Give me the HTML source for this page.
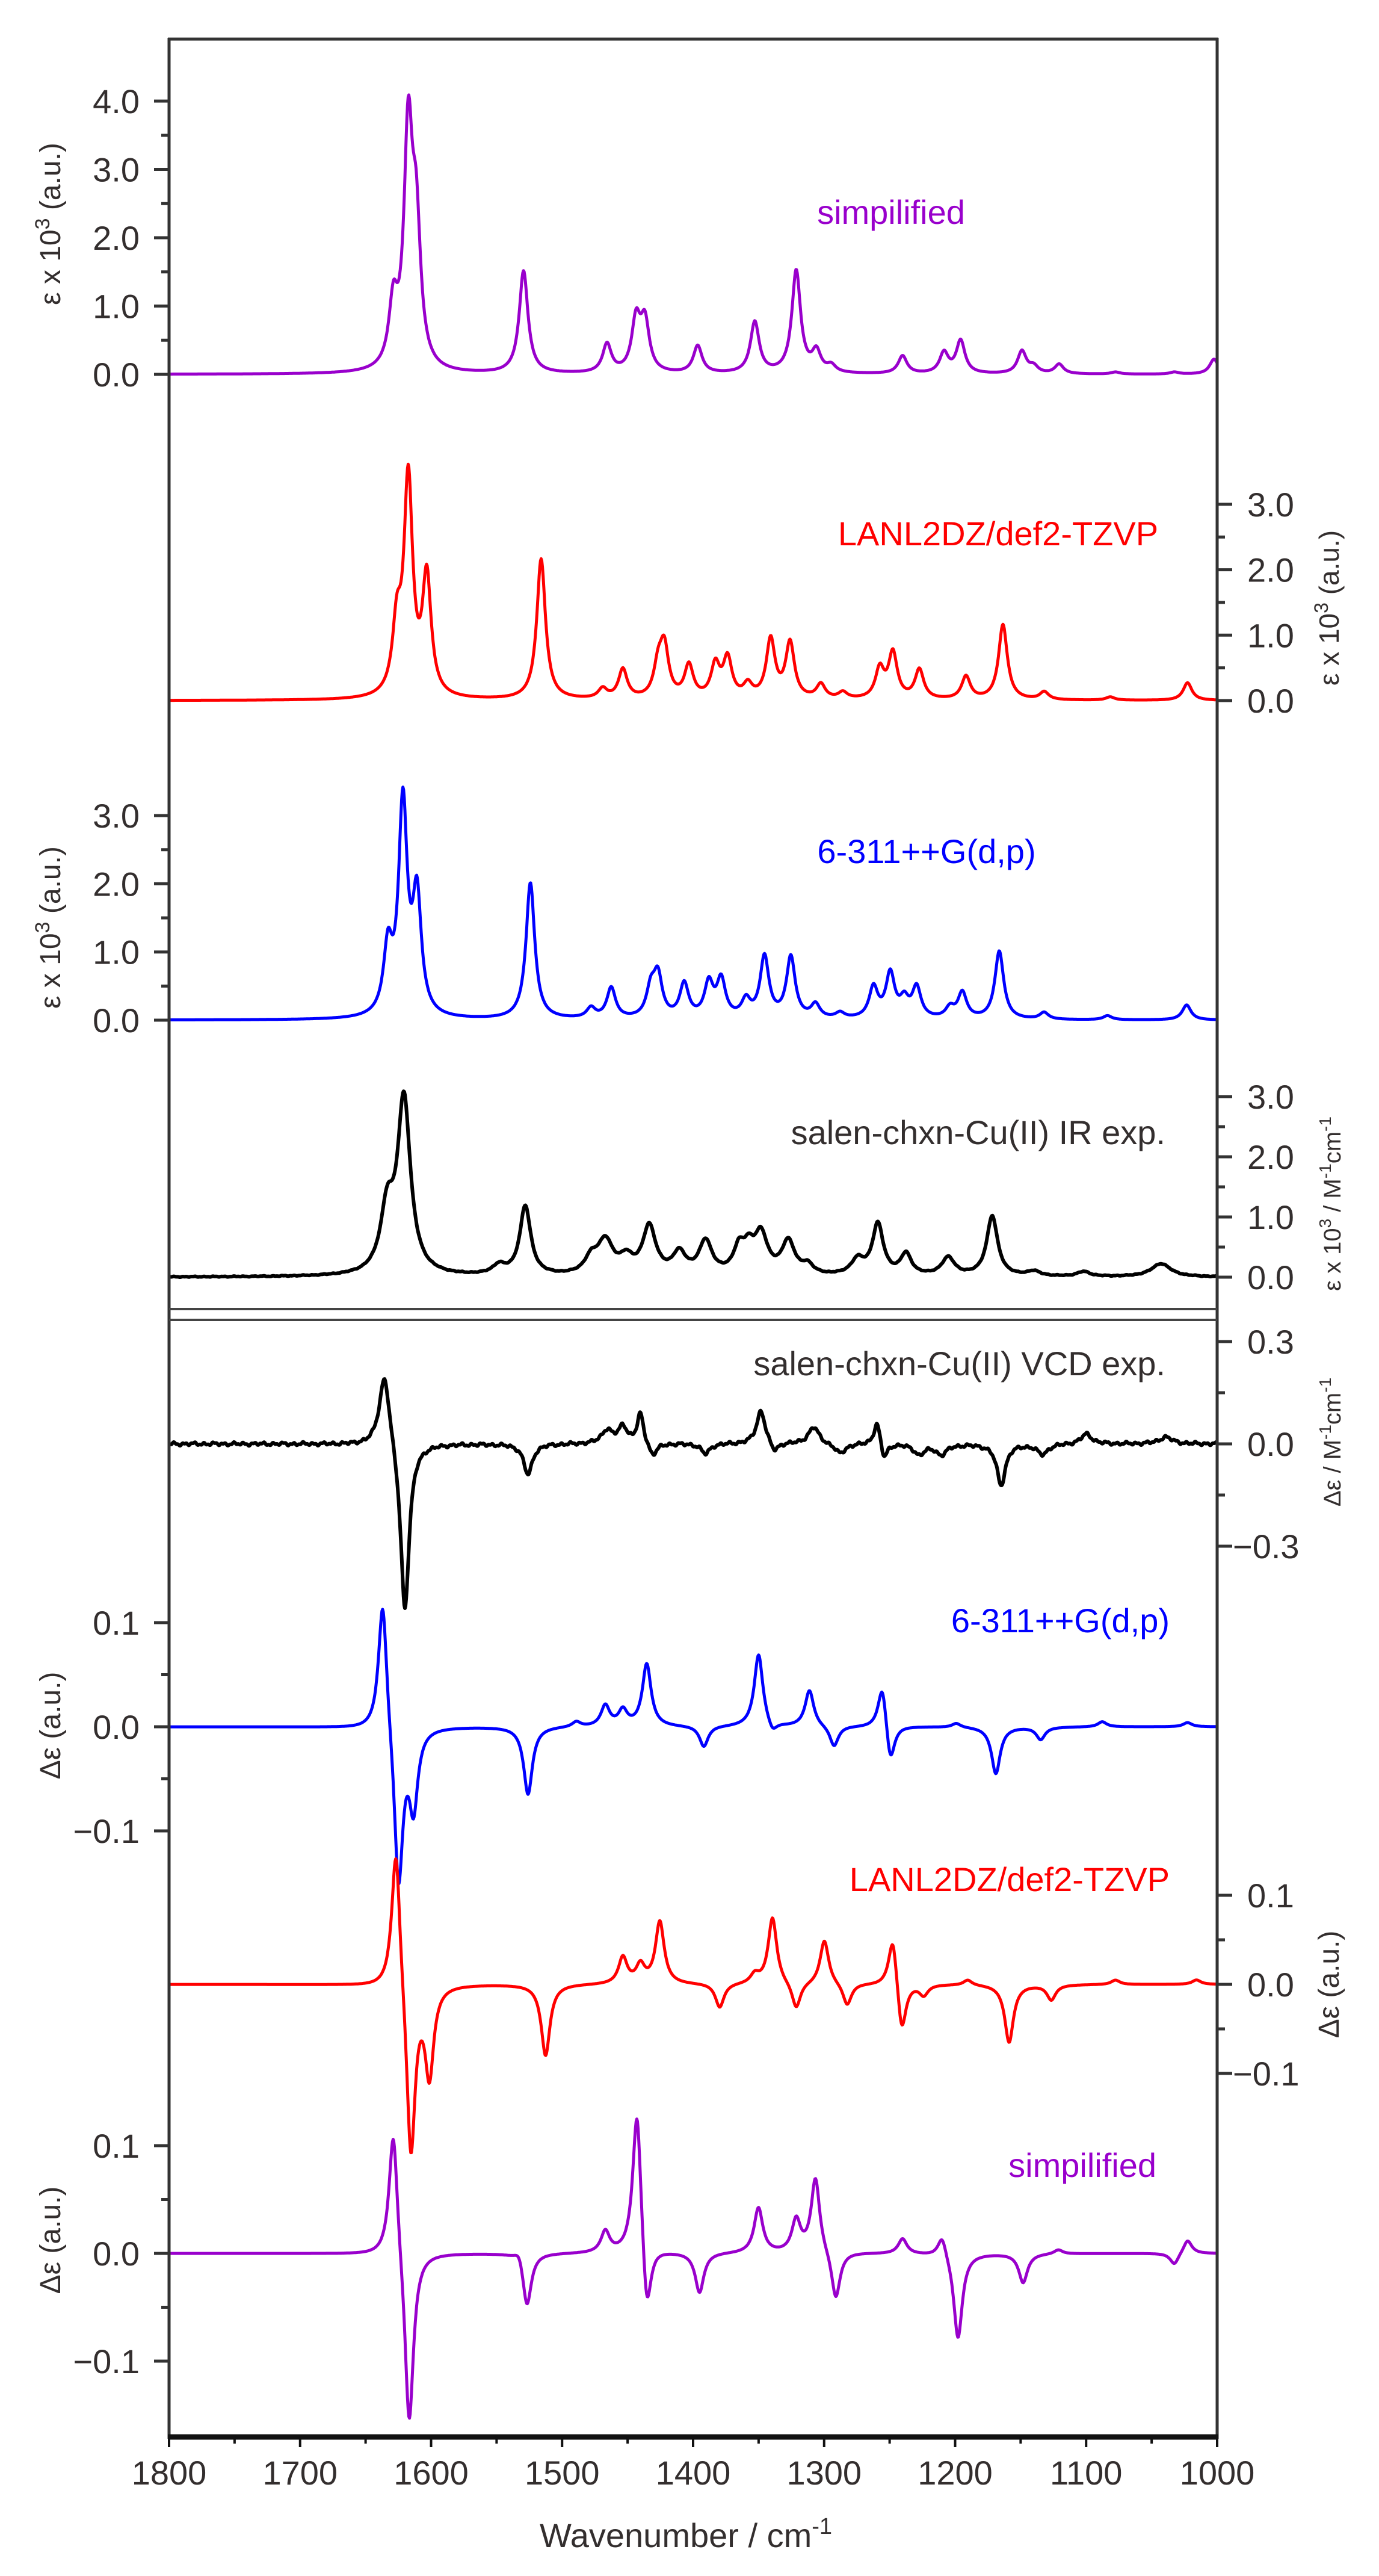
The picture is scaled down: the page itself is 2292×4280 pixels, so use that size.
<!DOCTYPE html>
<html><head><meta charset="utf-8">
<style>
html,body{margin:0;padding:0;background:#fff;}
svg{display:block;}
text{font-family:"Liberation Sans",Arial,sans-serif;fill:#332e2e;}
</style></head>
<body>
<svg id="s" width="2292" height="4280" viewBox="0 0 2292 4280" xmlns="http://www.w3.org/2000/svg">
<defs><clipPath id="cp"><rect x="281" y="60" width="1742" height="3985"/></clipPath></defs>
<g id="curves" clip-path="url(#cp)"></g>
<g id="axes" stroke="#333" fill="none"></g>
<g id="labels"></g>
</svg>
<script>
var NS="http://www.w3.org/2000/svg";
var cg=document.getElementById('curves'),ag=document.getElementById('axes'),lg=document.getElementById('labels');
function X(w){return 281+(1800-w)*2.1775;}
function el(tag,attrs,parent,txt){var e=document.createElementNS(NS,tag);for(var k in attrs)e.setAttribute(k,attrs[k]);if(txt!==undefined)e.textContent=txt;parent.appendChild(e);return e;}
function curve(peaks,y0,scale,color,g0,noise,sw){
  var d="";
  for(var w=1800;w>=999.5;w-=0.5){
    var v=0;
    for(var i=0;i<peaks.length;i++){var p=peaks[i];var g=p[2]||g0;var dx=w-p[0];v+=p[1]*g*g/(dx*dx+g*g);}
    if(noise)v+=noise*(Math.sin(w*0.83)+0.6*Math.sin(w*1.91+1)+0.4*Math.sin(w*0.37+2));
    var y=y0-v*scale;
    d+=(d?"L":"M")+X(w).toFixed(1)+" "+y.toFixed(1);
  }
  el('path',{d:d,stroke:color,'stroke-width':sw||5,fill:'none','stroke-linejoin':'round'},cg);
}
var PUR="#9900cc";
curve([[1628.8,0.9],[1617.4,3.4],[1611.3,1.9],[1529.4,1.5],[1465.7,0.42],[1443.5,0.75],[1436.8,0.72],[1396.5,0.4],[1352.9,0.75],[1321.3,1.5],[1305.9,0.3],[1294.5,0.1],[1240.1,0.26],[1208.5,0.3],[1195.8,0.48],[1149,0.33],[1140,0.1],[1120.6,0.14],[1077.6,0.03],[1032.6,0.03],[1002.4,0.22]],622,113.5,PUR,4);
curve([[1626.1,1.0],[1617.4,3.3],[1603.3,1.8],[1516,2.15],[1469,0.15],[1453.6,0.45],[1426.7,0.45],[1422,0.75],[1403.2,0.5],[1383,0.5],[1373.7,0.6],[1358.2,0.2],[1340.8,0.9],[1326,0.85],[1302.5,0.22],[1285.7,0.1],[1257.5,0.45],[1247.5,0.7],[1227.3,0.45],[1191.7,0.35],[1163.5,1.15],[1132,0.12],[1081.6,0.05],[1022.6,0.27]],1164,108.7,"#ff0000",4);
curve([[1632.9,0.95],[1621.5,3.1],[1610.8,1.7],[1524.2,2.0],[1477.9,0.15],[1462.5,0.45],[1432.3,0.4],[1426.9,0.6],[1406.8,0.5],[1388,0.5],[1378.6,0.55],[1359.6,0.25],[1345.5,0.9],[1325.4,0.9],[1306.6,0.2],[1287.8,0.08],[1262.3,0.45],[1249.5,0.65],[1238.8,0.25],[1229.4,0.45],[1203.9,0.15],[1194.5,0.38],[1166.3,1.0],[1132.1,0.1],[1083.7,0.06],[1023.3,0.22]],1695,113.3,"#0000ff",4);
curve([[1633.5,1.0,6],[1620.7,2.9,6],[1548.2,0.15,6],[1528.1,1.15,5],[1477.8,0.25,6],[1467,0.55,7],[1451,0.25,6],[1433.5,0.8,6],[1410.6,0.35,6],[1390.5,0.55,6],[1365,0.4,5],[1357.6,0.35,5],[1348.2,0.65,6],[1327.4,0.55,6],[1312.6,0.15,5],[1274.4,0.25,6],[1259,0.85,5],[1237.5,0.35,5],[1205.3,0.3,6],[1171.7,1.0,5],[1140.1,0.08,6],[1101.9,0.08,6],[1042.8,0.22,9]],2122,100,"#000",6,0.004,6);
curve([[1635.5,0.22,5],[1620,-0.5,4],[1526,-0.09,4],[1465.7,0.04,5],[1453.6,0.05,4],[1440.2,0.09,3],[1430.8,-0.04,4],[1390.5,-0.03,4],[1348.2,0.1,4],[1338.1,-0.03,4],[1307.9,0.05,5],[1287.8,-0.03,5],[1259.6,0.07,3],[1254.2,-0.05,3],[1227.3,-0.03,5],[1210.5,-0.03,5],[1164.9,-0.12,4],[1133.3,-0.03,5],[1099.8,0.03,5],[1039.3,0.02,6]],2399,566.7,"#000",5,0.003,6);
curve([[1636.9,0.13],[1624.8,-0.155],[1613.4,-0.075],[1526,-0.065],[1489.1,0.005],[1467,0.02],[1453.6,0.015],[1435.4,0.06],[1391.8,-0.02],[1350,0.07],[1339.4,-0.01],[1311.2,0.035],[1292.4,-0.02],[1255.5,0.045],[1249.5,-0.04],[1199.1,0.004],[1168.9,-0.045],[1134.7,-0.012],[1087.7,0.005],[1022.6,0.004]],2869,1730,"#0000ff",4);
curve([[1626.8,0.165],[1615.4,-0.2],[1601.3,-0.1],[1512.6,-0.08],[1453.6,0.03],[1440.2,0.02],[1425.4,0.07],[1379.7,-0.027],[1352.9,0.01],[1339.4,0.075],[1321.3,-0.03],[1299.8,0.05],[1282.4,-0.025],[1247.5,0.06],[1240.8,-0.06],[1224,-0.012],[1190.4,0.006],[1158.8,-0.065],[1126.6,-0.017],[1077.6,0.005],[1015.8,0.005]],3297,1480,"#ff0000",4);
curve([[1628.8,0.122],[1616.7,-0.165],[1532.8,0.01],[1526.8,-0.05],[1467,0.02],[1442.8,0.14],[1435.4,-0.07],[1395.1,-0.037],[1350.1,0.042],[1321.3,0.03],[1306.6,0.07],[1291.1,-0.045],[1240.1,0.014],[1209.9,0.02],[1197.8,-0.08],[1148.1,-0.027],[1121.2,0.004],[1032.6,-0.011],[1022.6,0.013]],3744,1790,PUR,4);

el('line',{x1:279,y1:65,x2:2025,y2:65,'stroke-width':5},ag);
el('line',{x1:281,y1:63,x2:281,y2:4052,'stroke-width':5},ag);
el('line',{x1:2023,y1:63,x2:2023,y2:4052,'stroke-width':5},ag);
el('line',{x1:279,y1:4049,x2:2025,y2:4049,'stroke-width':9,stroke:'#111'},ag);
el('line',{x1:281,y1:2175,x2:2023,y2:2175,'stroke-width':4,stroke:'#444'},ag);
el('line',{x1:281,y1:2193,x2:2023,y2:2193,'stroke-width':4,stroke:'#444'},ag);
for(var w=1800;w>=1000;w-=50){var x=X(w);var maj=(w%100==0);
 el('line',{x1:x,y1:4049,x2:x,y2:maj?4066:4060,'stroke-width':4,stroke:'#111'},ag);
 if(maj)el('text',{x:x,y:4128,'font-size':56,'text-anchor':'middle'},lg,String(w));}
el('text',{x:1140,y:4232,'font-size':56,'text-anchor':'middle'},lg,'Wavenumber / cm').appendChild((function(){var t=document.createElementNS(NS,'tspan');t.setAttribute('dy','-22');t.setAttribute('font-size','38');t.textContent='-1';return t;})());

function fmt(v,dec){var s=Math.abs(v).toFixed(dec);return (v<0?'\u2212':'')+s;}
function yaxis(side,y0,scale,majors,minors,dec){
 var ax=side=='L'?281:2023,dir=side=='L'?-1:1;
 majors.forEach(function(v){var y=y0-v*scale;el('line',{x1:ax,y1:y,x2:ax+dir*25,y2:y,'stroke-width':5},ag);
  el('text',{x:side=='L'?232:2073-(v<0?24:0),y:y+20,'font-size':56,'text-anchor':side=='L'?'end':'start'},lg,fmt(v,dec));});
 minors.forEach(function(v){var y=y0-v*scale;el('line',{x1:ax,y1:y,x2:ax+dir*13,y2:y,'stroke-width':5},ag);});
}
yaxis('L',622,113.5,[0,1,2,3,4],[0.5,1.5,2.5,3.5],1);
yaxis('R',1164,108.7,[0,1,2,3],[0.5,1.5,2.5],1);
yaxis('L',1695,113.3,[0,1,2,3],[0.5,1.5,2.5],1);
yaxis('R',2122,100,[0,1,2,3],[0.5,1.5,2.5],1);
yaxis('R',2399,566.7,[0.3,0,-0.3],[0.15,-0.15],1);
yaxis('L',2869,1730,[0.1,0,-0.1],[0.05,-0.05],1);
yaxis('R',3297,1480,[0.1,0,-0.1],[0.05,-0.05],1);
yaxis('L',3744,1790,[0.1,0,-0.1],[0.05,-0.05],1);

function lab(x,y,anchor,col,txt){el('text',{x:x,y:y,'font-size':56,'text-anchor':anchor,style:'fill:'+col},lg,txt);}
lab(1481,372,'middle',PUR,'simpilified');
lab(1659,906,'middle','#ff0000','LANL2DZ/def2-TZVP');
lab(1540,1434,'middle','#0000ff','6-311++G(d,p)');
lab(1937,1901,'end','#332e2e','salen-chxn-Cu(II) IR exp.');
lab(1937,2285,'end','#332e2e','salen-chxn-Cu(II) VCD exp.');
lab(1944,2712,'end','#0000ff','6-311++G(d,p)');
lab(1944,3142,'end','#ff0000','LANL2DZ/def2-TZVP');
lab(1922,3617,'end',PUR,'simpilified');

function rt(x,y,size,parts){var t=el('text',{x:0,y:0,'font-size':size,'text-anchor':'middle',transform:'translate('+x+','+y+') rotate(-90)'},lg);
 parts.forEach(function(p){var s=document.createElementNS(NS,'tspan');s.textContent=p[0];if(p[1]){s.setAttribute('dy',p[1]);}if(p[2])s.setAttribute('font-size',p[2]);t.appendChild(s);});}
var eps='\u03b5',De='\u0394\u03b5';
rt(100,372,48,[[eps+' x 10'],['3','-18',34],[' (a.u.)','18']]);
rt(2225,1010,46,[[eps+' x 10'],['3','-18',32],[' (a.u.)','18']]);
rt(100,1541,48,[[eps+' x 10'],['3','-18',34],[' (a.u.)','18']]);
rt(2228,2000,40,[[eps+' x 10'],['3','-16',28],[' / M','16'],['-1','-16',28],['cm','16'],['-1','-16',28]]);
rt(2228,2396,40,[[De+' / M'],['-1','-16',28],['cm','16'],['-1','-16',28]]);
rt(100,2867,48,[[De+' (a.u.)']]);
rt(2225,3297,48,[[De+' (a.u.)']]);
rt(100,3722,48,[[De+' (a.u.)']]);
</script>
</body></html>
